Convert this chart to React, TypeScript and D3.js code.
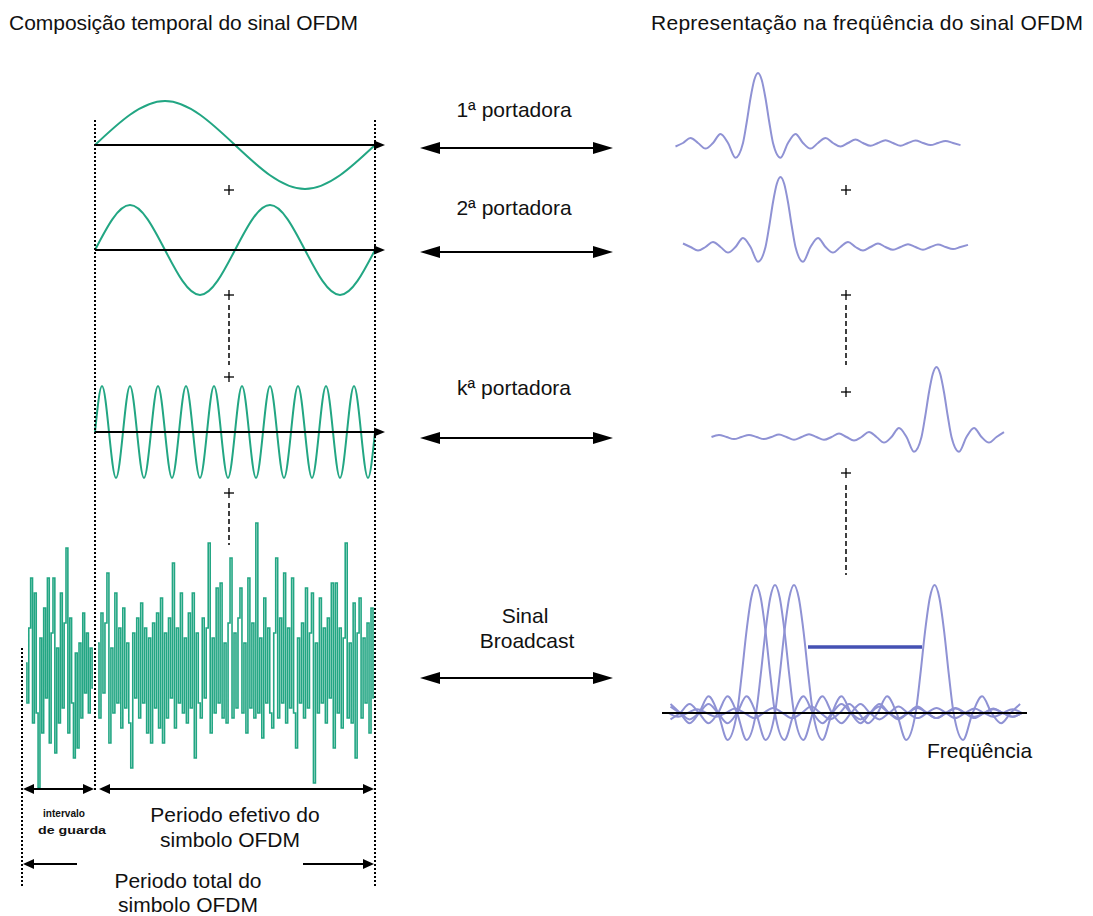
import React, { useEffect, useRef } from "react";
import * as d3 from "d3";

// carriers (time domain)
const carrierLabels = ["1ª portadora", "2ª portadora", "kª portadora"];
const carrierCycles = [1, 2, 10];
const quarterWave = [0, 1, 0, -1];

// spectrum shape (peak = 1)
const mainLobe = [1, 0.9, 0.64, 0.3, 0]; // at 0, .25, .5, .75, 1 spacing
const sideLobes = [
  -0.21, 0.13, -0.08, 0.07, -0.05, 0.05, -0.04, 0.04, -0.04, 0.035, -0.03,
  0.03, -0.03, 0.03, -0.03, 0.03,
];
const spectrumCenters = [0, 1.5, 11.9];
const spectrumSpans = [
  [-5.8, 13.7],
  [-5.4, 14.3],
  [-3.1, 16.8],
];
const broadcastCenters = [0, 1, 2, 9.4];
const broadcastSpan = [-4.8, 14.1];

// broadcast signal samples (guard interval + useful part)
const guardSignal = [
  0.2, -0.6, 0.9, 1.9, -1.0, 1.6, -0.8, -2.3, 0.7, -1.2, 1.3, -0.5, 1.9, -1.4,
  0.8, 1.9, -1.6, 0.5, -1.0, 1.6, -0.7, 1.0, 2.5, -1.2, 1.1, -0.6, -1.7, 0.4,
  -1.5, 0.6, -0.9, 1.2, -0.4, 0.8, -0.8, 0.5, -0.3,
];
const usefulSignal = [
  0.6, -0.9, 1.2, -0.4, 1.0, 2.0, -1.4, 0.5, -0.8, 1.6, -0.6, 0.9, -1.1, 1.3,
  -0.7, 0.6, -1.0, -1.9, 0.8, -0.5, 1.1, -0.9, 1.4, -0.6, 0.9, -1.2, 0.7, -1.4,
  1.0, -0.7, 1.2, -1.1, 1.5, -1.4, 0.8, -0.9, 1.1, -0.5, 2.2, -1.1, 0.9, -0.6,
  1.6, -0.8, 0.7, -1.0, 1.2, -0.7, 1.6, -1.7, 0.8, -0.6, -0.9, 1.1, -0.5, 0.9,
  2.6, -1.2, 0.7, -0.8, 1.7, -0.6, 1.8, -0.9, 0.6, -1.0, 1.0, 2.3, -0.9, 0.8,
  -0.7, 1.1, 1.7, -0.8, 0.6, -1.2, 1.9, -0.7, 1.0, -0.9, 3.0, -0.8, 0.7, -1.3,
  1.5, -0.6, 0.9, -0.8, -1.1, 0.8, 2.3, -0.9, 1.1, -0.6, 2.0, -1.0, 0.9, -0.7,
  1.9, -0.8, -1.5, 0.7, -0.6, 1.0, -0.9, 1.7, -0.7, 0.8, 1.6, -2.2, 0.6, -0.8,
  1.5, -0.6, 0.9, -1.0, 1.1, -0.5, 1.8, -1.5, 1.8, -0.8, 0.9, -1.1, 0.7, 2.6,
  -0.9, 0.6, -1.0, 1.4, -1.7, 0.8, 1.5, -0.9, 0.7, -0.6, 1.0, -1.2, 1.3, -0.5,
];

export default function App() {
  const ref = useRef<SVGSVGElement>(null);

  useEffect(() => {
    const svg = d3.select(ref.current);
    svg.selectAll("*").remove();

    const font = "'Liberation Sans', Arial, sans-serif";
    const teal = "#22a683";
    const lav = "#8f92d4";

    const text = (x: number, y: number, s: string, anchor = "start", size = 21) =>
      svg
        .append("text")
        .attr("x", x)
        .attr("y", y)
        .attr("text-anchor", anchor)
        .attr("font-family", font)
        .attr("font-size", size)
        .attr("fill", "#111")
        .text(s);

    const seg = (x1: number, y1: number, x2: number, y2: number, w = 2, dash = "") =>
      svg
        .append("line")
        .attr("x1", x1)
        .attr("y1", y1)
        .attr("x2", x2)
        .attr("y2", y2)
        .attr("stroke", "#000")
        .attr("stroke-width", w)
        .attr("stroke-dasharray", dash || null);

    const head = (tip: number, y: number, dir: number, len: number, half: number) =>
      svg
        .append("path")
        .attr("d", `M${tip},${y}L${tip - dir * len},${y - half}L${tip - dir * len},${y + half}Z`)
        .attr("fill", "#000");

    const plus = (x: number, y: number) => {
      seg(x - 5, y, x + 5, y, 1.3);
      seg(x, y - 5, x, y + 5, 1.3);
    };

    // titles
    text(9, 30, "Composição temporal do sinal OFDM").attr("textLength", 349);
    text(651, 30, "Representação na freqüência do sinal OFDM").attr("textLength", 432);

    // time-domain carriers
    const timeAxisY = [145, 250, 432];
    const amps = [44, 45, 46];
    carrierCycles.forEach((c, i) => {
      const pts: number[] = [];
      for (let k = 0; k < c; k++) pts.push(...quarterWave);
      pts.push(0);
      const x = d3.scaleLinear().domain([0, pts.length - 1]).range([95, 375]);
      const y = d3.scaleLinear().domain([-1, 1]).range([timeAxisY[i] + amps[i], timeAxisY[i] - amps[i]]);
      const line = d3
        .line<number>()
        .x((_, j) => x(j))
        .y((d) => y(d))
        .curve(d3.curveNatural);
      svg
        .append("path")
        .attr("d", line(pts))
        .attr("fill", "none")
        .attr("stroke", teal)
        .attr("stroke-width", 2);
      seg(95, timeAxisY[i], 376, timeAxisY[i], 2);
      head(385, timeAxisY[i], 1, 11, 4.5);
    });

    // broadcast signal in time
    const yNoise = d3.scaleLinear().domain([-1, 1]).range([673 + 50, 673 - 50]);
    const noiseLine = (vals: number[], x0: number, x1: number) => {
      const x = d3.scaleLinear().domain([0, vals.length - 1]).range([x0, x1]);
      const line = d3
        .line<number>()
        .x((_, j) => x(j))
        .y((d) => yNoise(d))
        .curve(d3.curveStep);
      svg
        .append("path")
        .attr("d", line(vals))
        .attr("fill", "none")
        .attr("stroke", teal)
        .attr("stroke-width", 1.6);
    };
    noiseLine(guardSignal, 26, 93);
    noiseLine(usefulSignal, 98, 374);

    // dotted boundaries
    seg(95, 120, 95, 792, 2, "2,2");
    seg(375, 120, 375, 888, 2, "2,2");
    seg(22, 648, 22, 888, 2, "2,2");

    // pluses and ellipsis
    [190, 295, 377, 493].forEach((y) => plus(229, y));
    seg(229, 305, 229, 365, 1.5, "5,3");
    seg(229, 503, 229, 545, 1.5, "5,3");
    [190, 295, 392, 473].forEach((y) => plus(846, y));
    seg(846, 305, 846, 365, 1.5, "5,3");
    seg(846, 485, 846, 575, 1.5, "5,3");

    // middle labels and double arrows
    const labelY = [117, 215, 395];
    const arrowY = [148, 252, 438, 678];
    carrierLabels.forEach((l, i) => text(514, labelY[i], l, "middle"));
    text(525, 623, "Sinal", "middle");
    text(527, 648, "Broadcast", "middle");
    arrowY.forEach((y) => {
      seg(430, y, 603, y, 2);
      head(420, y, -1, 20, 6);
      head(613, y, 1, 20, 6);
    });

    // spectrum template
    const template: [number, number][] = [];
    mainLobe.forEach((v, i) => {
      template.push([i * 0.25, v]);
      if (i > 0) template.push([-i * 0.25, v]);
    });
    sideLobes.forEach((v, n) => {
      template.push([1.5 + n, v], [-(1.5 + n), v]);
      template.push([2 + n, 0], [-(2 + n), 0]);
    });
    template.sort((a, b) => a[0] - b[0]);

    const drawSpectrum = (
      c: number,
      span: number[],
      x: d3.ScaleLinear<number, number>,
      y: d3.ScaleLinear<number, number>
    ) => {
      const pts = template.filter((p) => p[0] + c >= span[0] && p[0] + c <= span[1]);
      const line = d3
        .line<[number, number]>()
        .x((p) => x(p[0] + c))
        .y((p) => y(p[1]))
        .curve(d3.curveMonotoneX);
      svg
        .append("path")
        .attr("d", line(pts))
        .attr("fill", "none")
        .attr("stroke", lav)
        .attr("stroke-width", 2);
    };

    const specBase = [143, 247, 437];
    const xSpec = d3.scaleLinear().domain([0, 1]).range([758, 773]);
    spectrumCenters.forEach((c, i) => {
      const y = d3.scaleLinear().domain([0, 1]).range([specBase[i], specBase[i] - 70]);
      drawSpectrum(c, spectrumSpans[i], xSpec, y);
    });

    // broadcast spectrum
    const xB = d3.scaleLinear().domain([0, 1]).range([756, 775]);
    const yB = d3.scaleLinear().domain([0, 1]).range([713, 713 - 128]);
    broadcastCenters.forEach((c) => drawSpectrum(c, broadcastSpan, xB, yB));
    seg(662, 713, 1027, 713, 2);
    svg
      .append("line")
      .attr("x1", 808)
      .attr("x2", 922)
      .attr("y1", 647)
      .attr("y2", 647)
      .attr("stroke", "#4451b3")
      .attr("stroke-width", 3.5);
    text(927, 758, "Freqüência");

    // time annotations
    seg(30, 789, 88, 789, 2);
    head(23, 789, -1, 11, 5);
    head(94, 789, 1, 11, 5);
    seg(106, 789, 366, 789, 2);
    head(99, 789, -1, 11, 5);
    head(374, 789, 1, 11, 5);

    text(43, 817, "intervalo", "start", 11)
      .attr("font-weight", "bold")
      .attr("textLength", 42)
      .attr("lengthAdjust", "spacingAndGlyphs");
    text(38, 834, "de guarda", "start", 11)
      .attr("font-weight", "bold")
      .attr("textLength", 68)
      .attr("lengthAdjust", "spacingAndGlyphs");

    text(235, 822, "Periodo efetivo do", "middle");
    text(230, 847, "simbolo OFDM", "middle");

    seg(32, 864, 77, 864, 2);
    head(23, 864, -1, 11, 5);
    seg(303, 864, 366, 864, 2);
    head(374, 864, 1, 11, 5);

    text(188, 888, "Periodo total do", "middle");
    text(188, 912, "simbolo OFDM", "middle");
  }, []);

  return (
    <svg
      ref={ref}
      width={1093}
      height={916}
      style={{ position: "absolute", left: 0, top: 0, background: "#fff" }}
    />
  );
}
